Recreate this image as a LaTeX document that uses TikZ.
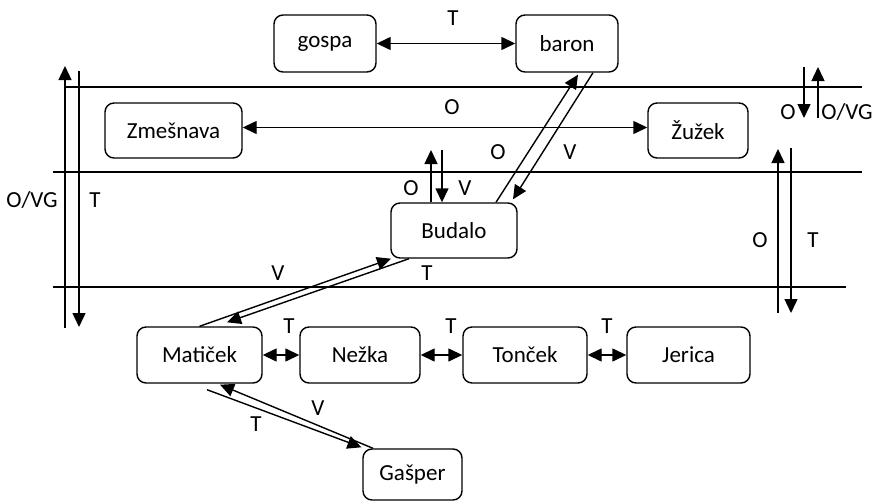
\documentclass[tikz,border=0pt]{standalone}
\usepackage{fontspec}
\setmainfont{Carlito}
\usetikzlibrary{arrows.meta}
\begin{document}
\begin{tikzpicture}[x=1pt,y=-1pt,
  box/.style={draw, line width=1.4pt, rounded corners=9pt, inner sep=0pt, font=\fontsize{23}{27}\selectfont},
  lbl/.style={inner sep=0pt, font=\fontsize{23}{27}\selectfont},
  conn/.style={line width=1.4pt},
  tip/.style={conn, -{Triangle[length=14pt,width=13pt]}},
  both/.style={conn, {Triangle[length=14pt,width=13pt]}-{Triangle[length=14pt,width=13pt]}},
]
\useasboundingbox (0,0) rectangle (888,503);

% boxes
\node[box, minimum width=102pt, minimum height=57pt] (gospa) at (325,43.5) {gospa};
\node[box, minimum width=102pt, minimum height=57pt] (baron) at (567,43.5) {baron};
\node[box, minimum width=137pt, minimum height=55pt] (zmes) at (173.5,130.5) {Zmešnava};
\node[box, minimum width=100pt, minimum height=55pt] (zuzek) at (698,130.5) {Žužek};
\node[box, minimum width=126pt, minimum height=55pt] (budalo) at (454,230.5) {Budalo};
\node[box, minimum width=125pt, minimum height=56pt] (maticek) at (199.5,355) {Matiček};
\node[box, minimum width=120pt, minimum height=56pt] (nezka) at (360,355) {Nežka};
\node[box, minimum width=124pt, minimum height=56pt] (toncek) at (525,355) {Tonček};
\node[box, minimum width=123pt, minimum height=56pt] (jerica) at (688.5,355) {Jerica};
\node[box, minimum width=99pt, minimum height=51pt] (gasper) at (412.5,474.5) {Gašper};

% horizontal separator lines
\coordinate (h1a) at (65,87);  \coordinate (h1b) at (862,87);
\coordinate (h2a) at (53,172); \coordinate (h2b) at (862,172);
\coordinate (h3a) at (53,287); \coordinate (h3b) at (846,287);
\draw[conn] (h1a) -- (h1b);
\draw[conn] (h2a) -- (h2b);
\draw[conn] (h3a) -- (h3b);

% horizontal two-headed connectors
\draw[both] (gospa.east) -- (baron.west);
\draw[both] ([yshift=3pt]zmes.east) -- ([yshift=3pt]zuzek.west);
\draw[both] (maticek.east) -- (nezka.west);
\draw[both] (nezka.east) -- (toncek.west);
\draw[both] (toncek.east) -- (jerica.west);

% Budalo - baron
\draw[tip] ([xshift=42pt]budalo.north) -- ([xshift=11pt,yshift=-2pt]baron.south);
\draw[tip] ([xshift=26pt]baron.south) -- ([xshift=59pt,yshift=3pt]budalo.north);

% Budalo vertical pair
\coordinate (bu1) at (431,150);
\coordinate (bu2) at (442,150);
\draw[tip] ([xshift=-23pt]budalo.north) -- (bu1);
\draw[tip] (bu2) -- ([xshift=-12pt]budalo.north);

% Budalo - Maticek
\draw[tip] (maticek.north) -- ([xshift=-63pt]budalo.south);
\draw[tip] ([xshift=-45pt]budalo.south) -- ([xshift=27.5pt,yshift=4pt]maticek.north);

% Maticek - Gasper
\draw[tip] ([xshift=-39.5pt]gasper.north) -- ([xshift=20.5pt,yshift=-1pt]maticek.south);
\draw[tip] ([xshift=7.5pt,yshift=-6pt]maticek.south) -- ([xshift=-51pt,yshift=1pt]gasper.north);

% left vertical pair
\coordinate (l1a) at (65,328); \coordinate (l1b) at (65,66);
\coordinate (l2a) at (79,71);  \coordinate (l2b) at (79,327);
\draw[tip] (l1a) -- (l1b);
\draw[tip] (l2a) -- (l2b);

% right top pair
\coordinate (r1a) at (804,67);  \coordinate (r1b) at (804,118);
\coordinate (r2a) at (818,118); \coordinate (r2b) at (818,67);
\draw[tip] (r1a) -- (r1b);
\draw[tip] (r2a) -- (r2b);

% right middle pair
\coordinate (m1a) at (778,313); \coordinate (m1b) at (778,149);
\coordinate (m2a) at (791,148); \coordinate (m2b) at (791,313);
\draw[tip] (m1a) -- (m1b);
\draw[tip] (m2a) -- (m2b);

% labels
\node[lbl] (t1) at (453,18) {T};
\node[lbl] (t2) at (452,107) {O};
\node[lbl] (t3) at (498,152) {O};
\node[lbl] (t4) at (570,152) {V};
\node[lbl] (t5) at (411,188) {O};
\node[lbl] (t6) at (465,188) {V};
\node[lbl] (t7) at (32,200) {O/VG};
\node[lbl] (t8) at (95,200) {T};
\node[lbl] (t9) at (788,112) {O};
\node[lbl] (t10) at (847,112) {O/VG};
\node[lbl] (t11) at (760,240) {O};
\node[lbl] (t12) at (813,240) {T};
\node[lbl] (t13) at (278,273) {V};
\node[lbl] (t14) at (427,273) {T};
\node[lbl] (t15) at (289,326) {T};
\node[lbl] (t16) at (451,326) {T};
\node[lbl] (t17) at (607,326) {T};
\node[lbl] (t18) at (256,424) {T};
\node[lbl] (t19) at (318,408) {V};
\end{tikzpicture}
\end{document}
